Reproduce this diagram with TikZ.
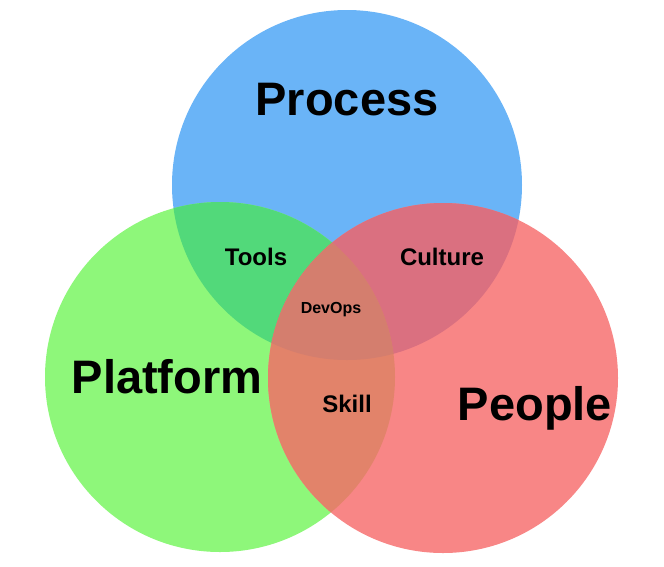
\documentclass[tikz,border=0pt]{standalone}
\usepackage{fontspec}
\setmainfont{Liberation Sans}
\definecolor{procblue}{RGB}{106,180,247}
\definecolor{platgreen}{RGB}{142,247,122}
\definecolor{peopred}{RGB}{248,134,134}
\definecolor{toolsmix}{RGB}{82,217,122}
\definecolor{culturemix}{RGB}{218,112,128}
\definecolor{skillmix}{RGB}{226,131,106}
\definecolor{devopsmix}{RGB}{212,126,110}
\begin{document}
\begin{tikzpicture}[
  x=1pt, y=-1pt,
  big/.style={font=\fontsize{47}{47}\selectfont\bfseries, anchor=base, inner sep=0pt},
  mid/.style={font=\fontsize{24}{24}\selectfont\bfseries, anchor=base, inner sep=0pt},
  small/.style={font=\fontsize{16}{16}\selectfont\bfseries, anchor=base, inner sep=0pt}]

\useasboundingbox (0,0) rectangle (664,566);

% Kreise
\def\rad{175}
\coordinate (cproc) at (347,185);
\coordinate (cplat) at (220,377);
\coordinate (cpeop) at (443,378);

\fill[procblue] (cproc) circle (\rad);
\fill[platgreen] (cplat) circle (\rad);
\fill[peopred] (cpeop) circle (\rad);

% Schnittmengen
\begin{scope}
  \clip (cproc) circle (\rad);
  \fill[toolsmix] (cplat) circle (\rad);
  \fill[culturemix] (cpeop) circle (\rad);
\end{scope}
\begin{scope}
  \clip (cplat) circle (\rad);
  \fill[skillmix] (cpeop) circle (\rad);
  \clip (cproc) circle (\rad);
  \fill[devopsmix] (cpeop) circle (\rad);
\end{scope}

% Beschriftungen
\node[big] (process) at (347,115) {Process};
\node[big] (platform) at (167,393) {Platform};
\node[big] (people) at (535,420) {People};
\node[mid] (tools) at (256,265) {Tools};
\node[mid] (culture) at (442,265) {Culture};
\node[small] (devops) at (331,313) {DevOps};
\node[mid] (skill) at (347,412) {Skill};

\end{tikzpicture}
\end{document}
